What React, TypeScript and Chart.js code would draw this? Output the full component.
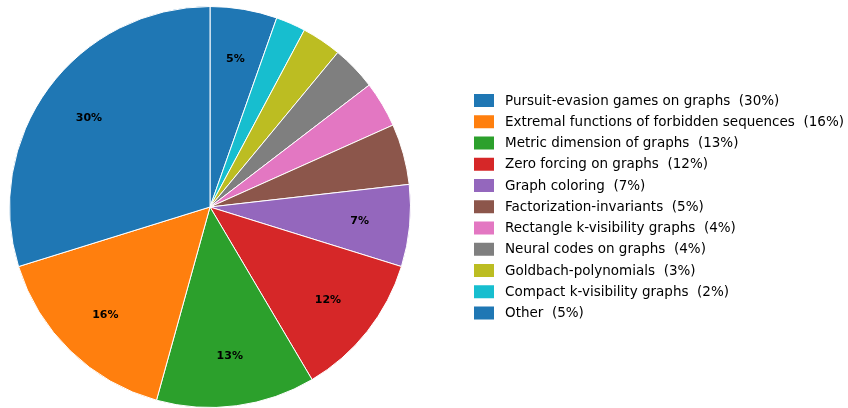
import React, { useEffect, useRef } from "react";
import { Chart, registerables } from "chart.js";

Chart.register(...registerables);

const categories = [
  "Pursuit-evasion games on graphs",
  "Extremal functions of forbidden sequences",
  "Metric dimension of graphs",
  "Zero forcing on graphs",
  "Graph coloring",
  "Factorization-invariants",
  "Rectangle k-visibility graphs",
  "Neural codes on graphs",
  "Goldbach-polynomials",
  "Compact k-visibility graphs",
  "Other",
];
const values = [29.8, 15.9, 12.8, 11.7, 6.6, 4.9, 3.7, 3.6, 3.2, 2.4, 5.4];
const colors = [
  "#1f77b4",
  "#ff7f0e",
  "#2ca02c",
  "#d62728",
  "#9467bd",
  "#8c564b",
  "#e377c2",
  "#7f7f7f",
  "#bcbd22",
  "#17becf",
  "#1f77b4",
];
const labelThreshold = 5;

const FONT = "'DejaVu Sans', sans-serif";

export default function App() {
  const ref = useRef<HTMLCanvasElement | null>(null);

  useEffect(() => {
    const canvas = ref.current;
    if (!canvas) return;
    const total = values.reduce((a, b) => a + b, 0);
    const pct = values.map((v) => (v / total) * 100);
    // drawn counter-clockwise from top in the reference => reverse order, clockwise
    const revIdx = values.map((_, i) => values.length - 1 - i);
    const dataRev = revIdx.map((i) => values[i]);
    const colRev = revIdx.map((i) => colors[i]);
    const labRev = revIdx.map((i) => categories[i]);

    const overlay = {
      id: "overlay",
      afterDatasetsDraw(chart: any) {
        const ctx = chart.ctx;
        const meta = chart.getDatasetMeta(0);
        ctx.save();
        ctx.fillStyle = "#000";
        ctx.font = `bold 11px ${FONT}`;
        ctx.textAlign = "center";
        ctx.textBaseline = "middle";
        meta.data.forEach((arc: any, j: number) => {
          const i = revIdx[j];
          if (pct[i] <= labelThreshold) return;
          const { x, y, startAngle, endAngle, outerRadius } = arc.getProps(
            ["x", "y", "startAngle", "endAngle", "outerRadius"],
            true
          );
          const mid = (startAngle + endAngle) / 2;
          const r = outerRadius * 0.75;
          ctx.fillText(
            `${Math.round(pct[i])}%`,
            x + Math.cos(mid) * r,
            y + Math.sin(mid) * r
          );
        });
        // legend
        const lx = 474;
        const ly = 100.5;
        const step = 21.25;
        ctx.font = `13.5px ${FONT}`;
        ctx.textAlign = "left";
        categories.forEach((c, i) => {
          const cy = ly + i * step;
          ctx.fillStyle = colors[i];
          ctx.fillRect(lx, cy - 6.5, 20, 13);
          ctx.fillStyle = "#000";
          ctx.fillText(`${c}  (${Math.round(pct[i])}%)`, lx + 31, cy + 0.5);
        });
        ctx.restore();
      },
    };

    const chart = new Chart(canvas, {
      type: "pie",
      data: {
        labels: labRev,
        datasets: [
          {
            data: dataRev,
            backgroundColor: colRev,
            borderColor: "#ffffff",
            borderWidth: 1,
            hoverOffset: 0,
          },
        ],
      },
      options: {
        responsive: false,
        animation: false,
        layout: { padding: { left: 9, top: 6, right: 437, bottom: 0 } },
        plugins: {
          legend: { display: false },
          tooltip: { enabled: false },
        },
      },
      plugins: [overlay],
    });
    return () => chart.destroy();
  }, []);

  return (
    <div style={{ position: "absolute", left: 0, top: 0, width: 848, height: 408, background: "#fff" }}>
      <canvas ref={ref} width={848} height={408} style={{ width: 848, height: 408 }} />
    </div>
  );
}
